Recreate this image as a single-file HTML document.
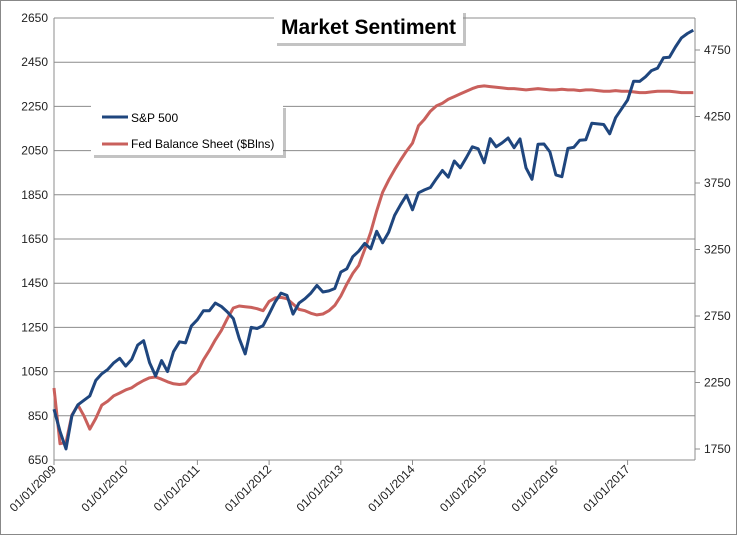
<!DOCTYPE html>
<html><head><meta charset="utf-8"><style>
html,body{margin:0;padding:0;background:#fff}
svg{display:block;font-family:"Liberation Sans",sans-serif}
</style></head><body>
<svg id="chart" width="737" height="535" viewBox="0 0 737 535">
<rect x="0.5" y="0.5" width="736" height="534" fill="#fff" stroke="#888"/>
<g id="grid"></g>
<g id="axes"></g>
<g id="series"></g>
<g>
<rect x="277" y="13" width="189" height="33" fill="#888" opacity="0.5"/>
<rect x="274" y="10" width="189" height="33" fill="#fff"/>
<text x="368.5" y="34" text-anchor="middle" font-size="21" font-weight="bold" fill="#000">Market Sentiment</text>
</g>
<g>
<rect x="94" y="108" width="192" height="50" fill="#888" opacity="0.5"/>
<rect x="91" y="105" width="192" height="50" fill="#fff"/>
<g><line x1="102" y1="117" x2="128" y2="117" stroke="#1f467e" stroke-width="3"/><text x="131" y="122" font-size="12">S&amp;P 500</text></g>
<g><line x1="102" y1="144" x2="128" y2="144" stroke="#c9605c" stroke-width="3"/><text x="131" y="148" font-size="12">Fed Balance Sheet ($Blns)</text></g>
</g>
</svg>
<script>
const leftTicks=[650,850,1050,1250,1450,1650,1850,2050,2250,2450,2650];
const rightTicks=[1750,2250,2750,3250,3750,4250,4750];
const yearLabels=["01/01/2009","01/01/2010","01/01/2011","01/01/2012","01/01/2013","01/01/2014","01/01/2015","01/01/2016","01/01/2017"];
const spx=[880,780,700,850,900,920,940,1010,1040,1060,1090,1110,
1075,1105,1170,1190,1090,1030,1100,1050,1140,1185,1180,1257,
1285,1325,1325,1360,1345,1320,1290,1200,1130,1250,1245,1258,
1310,1365,1405,1395,1310,1360,1380,1405,1440,1410,1415,1426,
1500,1515,1570,1595,1630,1606,1685,1633,1680,1757,1805,1848,
1782,1859,1872,1883,1923,1960,1930,2003,1972,2018,2067,2058,
1995,2104,2067,2085,2107,2063,2103,1972,1920,2079,2080,2044,
1940,1932,2060,2065,2097,2099,2174,2171,2168,2126,2199,2239,
2279,2364,2363,2384,2412,2423,2470,2472,2519,2560,2580,2595];
const fed=[2209,1790,1800,2006,2081,2000,1900,1980,2080,2110,2150,2171,
2194,2210,2240,2265,2285,2291,2275,2255,2240,2235,2240,2291,
2330,2420,2490,2570,2640,2730,2810,2825,2820,2815,2805,2790,
2860,2886,2890,2880,2840,2800,2790,2770,2758,2765,2790,2830,
2900,2990,3070,3130,3250,3380,3540,3680,3770,3850,3923,3990,
4050,4180,4230,4290,4330,4350,4380,4400,4420,4440,4460,4475,
4480,4475,4470,4465,4460,4460,4455,4450,4455,4460,4455,4450,
4450,4455,4450,4450,4445,4450,4450,4445,4440,4440,4445,4440,
4440,4435,4430,4430,4435,4440,4440,4440,4435,4430,4430,4430];
const NS="http://www.w3.org/2000/svg";
const X0=54,X1=695,YB=460,YT=18;
const xm=m=>X0+m*71.7/12;
const yL=v=>YB-(v-650)*(YB-YT)/2000;
const yR=v=>449-(v-1750)*66.5/500;
function mk(t,a,p){const e=document.createElementNS(NS,t);for(const k in a)e.setAttribute(k,a[k]);p.appendChild(e);return e;}
const grid=document.getElementById('grid'),axes=document.getElementById('axes'),ser=document.getElementById('series');
leftTicks.forEach(v=>{
 const y=yL(v);
 const g=mk('line',{x1:X0,x2:X1,y1:y,y2:y,stroke:'#8c8c8c','stroke-width':1},grid);
 
 
 const t=mk('text',{x:X0-6,y:y+4,'text-anchor':'end','font-size':12,fill:'#222'},axes);
 t.textContent=v;
 
 
});
rightTicks.forEach(v=>{
 const y=yR(v);
 const k=mk('line',{x1:X1,x2:X1+5,y1:y,y2:y,stroke:'#8c8c8c'},axes);
 
 
 const t=mk('text',{x:X1+9,y:y+4,'font-size':12,fill:'#222'},axes);
 t.textContent=v;
 
 
});
const la=mk('line',{x1:X0,x2:X0,y1:YT,y2:YB,stroke:'#8c8c8c'},axes);


const ra=mk('line',{x1:X1,x2:X1,y1:YT,y2:YB,stroke:'#8c8c8c'},axes);


yearLabels.forEach((s,i)=>{
 const x=xm(i*12);
 const k=mk('line',{x1:x,x2:x,y1:YB,y2:YB+5,stroke:'#8c8c8c'},axes);
 
 
 const t=mk('text',{x:x+3,y:YB+10,'text-anchor':'end','font-size':12,fill:'#222',transform:`rotate(-45 ${x+3} ${YB+10})`},axes);
 t.textContent=s;
 
 
});
function line(arr,yf,col,name){
 const d=arr.map((v,i)=>(i?'L':'M')+xm(i).toFixed(1)+','+yf(v).toFixed(1)).join('');
 const p=mk('path',{d:d,fill:'none',stroke:col,'stroke-width':3,'stroke-linejoin':'round'},ser);
 
 
}
line(fed,yR,'#c9605c','fed-balance-line');
line(spx,yL,'#1f467e','sp500-line');
</script>
</body></html>
